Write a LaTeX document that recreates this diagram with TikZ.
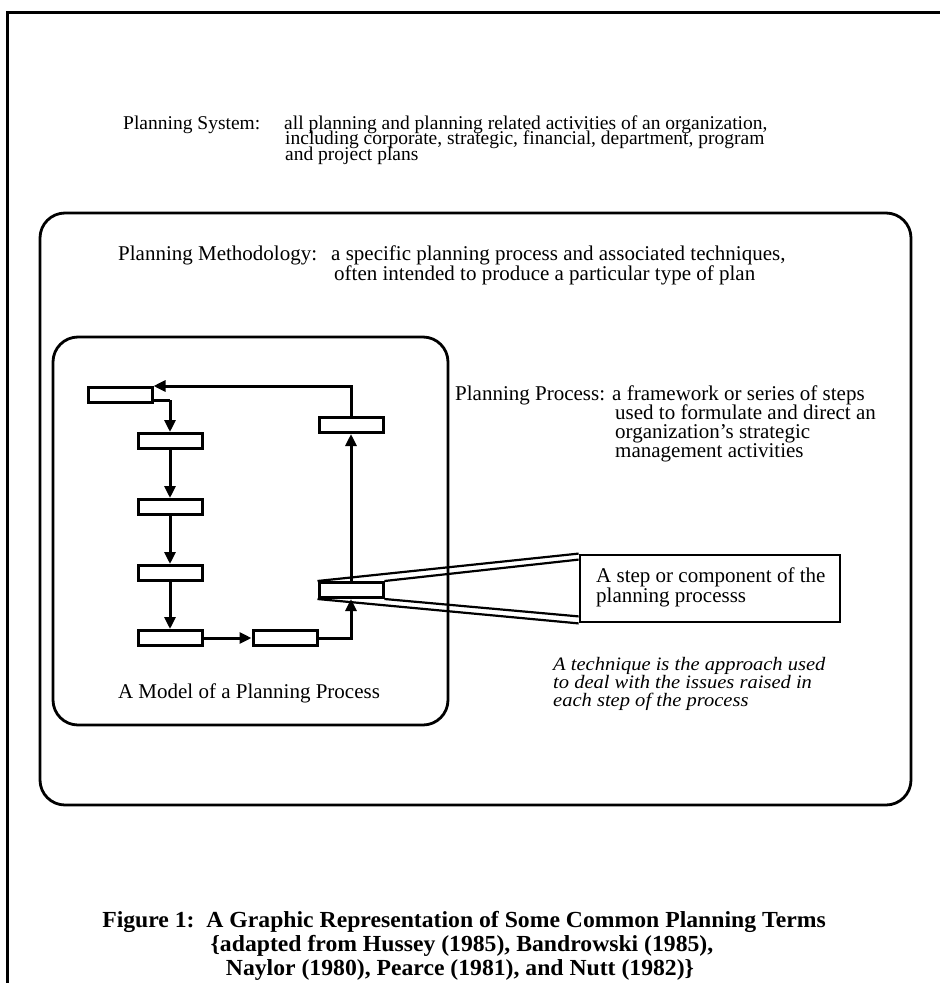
\documentclass[tikz,border=0pt]{standalone}
\usepackage{fontspec}
\setmainfont{Liberation Serif}
\newfontfamily\capfont[FakeStretch=1.03]{Liberation Serif}
\newfontfamily\notefont[FakeStretch=1.08]{Liberation Serif}
\usetikzlibrary{arrows.meta,calc}
\begin{document}
\begin{tikzpicture}[x=1pt,y=-1pt,
  frame/.style={line width=3pt},
  panel/.style={draw,line width=2.8pt,rounded corners=25pt},
  stepbox/.style={draw,line width=3pt,minimum width=64pt,minimum height=15pt,inner sep=0pt,fill=white},
  flow/.style={line width=3pt,-{Triangle[length=12pt,width=11pt]}},
  link/.style={line width=3pt},
  zoomline/.style={line width=2.2pt},
  systxt/.style={font=\fontsize{19.5}{19.5}\selectfont,inner sep=0pt,anchor=base west},
  txt/.style={font=\fontsize{21}{21}\selectfont,inner sep=0pt,anchor=base west},
  ital/.style={font=\fontsize{19}{19}\selectfont\notefont\itshape,inner sep=0pt,anchor=base west},
  captext/.style={font=\fontsize{23}{23}\selectfont\capfont\bfseries,inner sep=0pt,anchor=base}]
\useasboundingbox (0,0) rectangle (940,983);
\fill[white] (0,0) rectangle (940,983);

% page frame: left and top rules
\coordinate (fTL) at (7,12);
\coordinate (fTR) at (940,12);
\coordinate (fBL) at (7,983);
\draw[frame] (fBL) -- (fTL) -- (fTR);

% planning system text
\node[systxt] (sysL) at (123,129) {Planning System:};
\node[systxt] (sys1) at (284,129) {all planning and planning related activities of an organization,};
\node[systxt] (sys2) at (285,144.5) {including corporate, strategic, financial, department, program};
\node[systxt] (sys3) at (285,160) {and project plans};

% methodology panel
\draw[panel] (40,213) rectangle (911,805);
\node[txt] (metL) at (118,260) {Planning Methodology:};
\node[txt] (met1) at (331,260) {a specific planning process and associated techniques,};
\node[txt] (met2) at (334,280) {often intended to produce a particular type of plan};

% model panel
\draw[panel] (53,337) rectangle (448,725);
\node[txt,anchor=base] (model) at (249,698) {A Model of a Planning Process};

% process definition
\node[txt] (proL) at (455,400) {Planning Process:};
\node[txt] (pro1) at (612,400) {a framework or series of steps};
\node[txt] (pro2) at (615,419) {used to formulate and direct an};
\node[txt] (pro3) at (615,438) {organization's strategic};
\node[txt] (pro4) at (615,457) {management activities};

% steps of the model
\node[stepbox] (b1) at (120,395) {};
\node[stepbox] (b2) at (170,441) {};
\node[stepbox] (b3) at (170,507) {};
\node[stepbox] (b4) at (170,573) {};
\node[stepbox] (b5) at (170,638) {};
\node[stepbox] (b6) at (285,638) {};
\node[stepbox] (ur) at (351,425) {};

% callout box
\node[draw,line width=2.8pt,minimum width=260pt,minimum height=67pt,inner sep=0pt] (call) at (710,588.5) {};
\node[txt] (call1) at (596,582) {A step or component of the};
\node[txt] (call2) at (596,602) {planning processs};

% zoom lines from the step to the callout
\coordinate (cNW) at (call.north west);
\coordinate (cSW) at (call.south west);
\node[stepbox] (st) at (351,590) {};
\draw[zoomline] (st.north west) -- (cNW);
\draw[zoomline] (st.north east) -- ($(cNW)+(0,6)$);
\draw[zoomline] (st.south west) -- (cSW);
\draw[zoomline] (st.south east) -- ($(cSW)+(0,-7)$);
\node[stepbox] at (st) {};

% connectors
\coordinate (k1) at (170,400);
\draw[link] (b1.east |- k1) -- (k1);
\draw[flow] (k1) -- (b2.north);
\draw[flow] (b2) -- (b3);
\draw[flow] (b3) -- (b4);
\draw[flow] (b4) -- (b5);
\draw[flow] (b5) -- (b6);
\draw[flow] (b6.east) -| (st.south);
\draw[flow] (st.north) -- (ur.south);
\draw[flow] (ur.north) |- (b1.north east);

% technique note
\node[ital] (tec1) at (553,670) {A technique is the approach used};
\node[ital] (tec2) at (553,688) {to deal with the issues raised in};
\node[ital] (tec3) at (553,706) {each step of the process};

% caption
\node[captext] (cap1) at (464,927) {Figure 1:\ \ A Graphic Representation of Some Common Planning Terms};
\node[captext] (cap2) at (462,951) {\{adapted from Hussey (1985), Bandrowski (1985),};
\node[captext] (cap3) at (460,975) {Naylor (1980), Pearce (1981), and Nutt (1982)\}};
\end{tikzpicture}
\end{document}
